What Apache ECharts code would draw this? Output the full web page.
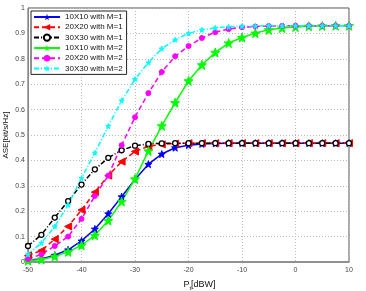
<!DOCTYPE html>
<html><head><meta charset="utf-8">
<script src="https://cdn.jsdelivr.net/npm/echarts@6/dist/echarts.min.js"></script>
<style>html,body{margin:0;padding:0;background:#fff}#c{width:366px;height:291px}</style>
</head><body><div id="c"></div>
<script>
const xValues = [-50,-47.5,-45,-42.5,-40,-37.5,-35,-32.5,-30,-27.5,-25,-22.5,-20,-17.5,-15,-12.5,-10,-7.5,-5,-2.5,0,2.5,5,7.5,10];
const names = ['10X10 with M=1','20X20 with M=1','30X30 with M=1','10X10 with M=2','20X20 with M=2','30X30 with M=2'];
const s10M1 = [0.008,0.012,0.027,0.048,0.083,0.13,0.19,0.257,0.325,0.385,0.425,0.45,0.46,0.465,0.467,0.468,0.468,0.468,0.468,0.468,0.468,0.468,0.468,0.468,0.468];
const s20M1 = [0.025,0.045,0.09,0.14,0.205,0.275,0.34,0.395,0.435,0.455,0.463,0.466,0.468,0.468,0.468,0.468,0.468,0.468,0.468,0.468,0.468,0.468,0.468,0.468,0.468];
const s30M1 = [0.063,0.107,0.175,0.24,0.305,0.365,0.41,0.44,0.458,0.465,0.467,0.468,0.468,0.468,0.468,0.468,0.468,0.468,0.468,0.468,0.468,0.468,0.468,0.468,0.468];
const s10M2 = [0.005,0.01,0.022,0.04,0.066,0.105,0.163,0.238,0.327,0.437,0.536,0.627,0.713,0.776,0.825,0.862,0.884,0.901,0.914,0.921,0.925,0.928,0.929,0.93,0.93];
const s20M2 = [0.012,0.03,0.063,0.1,0.17,0.26,0.34,0.46,0.57,0.665,0.748,0.81,0.85,0.882,0.905,0.917,0.924,0.927,0.929,0.93,0.93,0.93,0.93,0.93,0.93];
const s30M2 = [0.03,0.075,0.14,0.225,0.33,0.43,0.535,0.635,0.72,0.785,0.84,0.875,0.9,0.914,0.922,0.926,0.928,0.929,0.93,0.93,0.93,0.93,0.93,0.93,0.93];

const star = 'path://M0,-10L2.35,-3.24L9.51,-3.09L3.8,1.24L5.88,8.09L0,4L-5.88,8.09L-3.8,1.24L-9.51,-3.09L-2.35,-3.24Z';
const pair = arr => xValues.map((x,i)=>[x,arr[i]]);
const font = 'Liberation Sans, Arial, sans-serif';

function mk(name, data, color, type, symbol, size, extra){
  return Object.assign({
    name, type:'line', data: pair(data), symbol, symbolSize: size, showAllSymbol:true,
    lineStyle:{color, width:1.5, type},
    itemStyle:{color, borderColor:color},
    animation:false
  }, extra||{});
}

const chart = echarts.init(document.getElementById('c'));
chart.setOption({
  backgroundColor:'#fff',
  animation:false,
  textStyle:{fontFamily:font},
  grid:{left:28,right:17,top:8,bottom:29,show:true,borderColor:'#555',borderWidth:1,outerBoundsMode:'none',containLabel:false},
  legend:{
    orient:'vertical', left:31, top:11, itemWidth:26, itemHeight:8, itemGap:2.2,
    padding:[2,4,2,2], borderColor:'#222', borderWidth:1, backgroundColor:'#fff',
    textStyle:{fontSize:8, color:'#111', fontFamily:font},
    data:names
  },
  xAxis:{
    type:'value', min:-50, max:10, interval:10,
    name:'{p|P}{t|t}{p|[dBW]}', nameLocation:'middle', nameGap:17, nameMoveOverlap:false,
    nameTextStyle:{padding:[0,0,0,22],rich:{p:{fontSize:9,color:'#111',fontFamily:font},t:{fontSize:6,color:'#111',verticalAlign:'bottom',padding:[6,0,0,0],fontFamily:font}}},
    axisLine:{show:true,onZero:false,lineStyle:{color:'#888',width:1.5}},
    axisTick:{show:false},
    axisLabel:{fontSize:7,color:'#444',margin:5},
    splitLine:{show:true,lineStyle:{color:'#bbb',type:[1,2],width:1}}
  },
  yAxis:{
    type:'value', min:0, max:1, interval:0.1,
    name:'ASE[bit/s/Hz]', nameLocation:'middle', nameGap:18, nameMoveOverlap:false,
    nameTextStyle:{fontSize:8,color:'#111',fontFamily:font},
    axisLine:{show:true,onZero:false,lineStyle:{color:'#888',width:1}},
    axisTick:{show:false},
    axisLabel:{fontSize:7,color:'#444',margin:3},
    splitLine:{show:true,lineStyle:{color:'#bbb',type:[1,2],width:1}}
  },
  series:[
    mk(names[0], s10M1, '#0000ff', 'solid', star, 7),
    mk(names[1], s20M1, '#ff0000', [5,3], 'triangle', 7, {symbolRotate:90}),
    mk(names[2], s30M1, '#000000', [5,2,1,2], 'circle', 5, {itemStyle:{color:'#ffffff',borderColor:'#000000',borderWidth:1.3}}),
    mk(names[3], s10M2, '#00ff00', 'solid', star, 9),
    mk(names[4], s20M2, '#ff00ff', [5,3], 'circle', 5),
    mk(names[5], s30M2, '#00ffff', [5,2,1,2], star, 5)
  ]
});
</script></body></html>
